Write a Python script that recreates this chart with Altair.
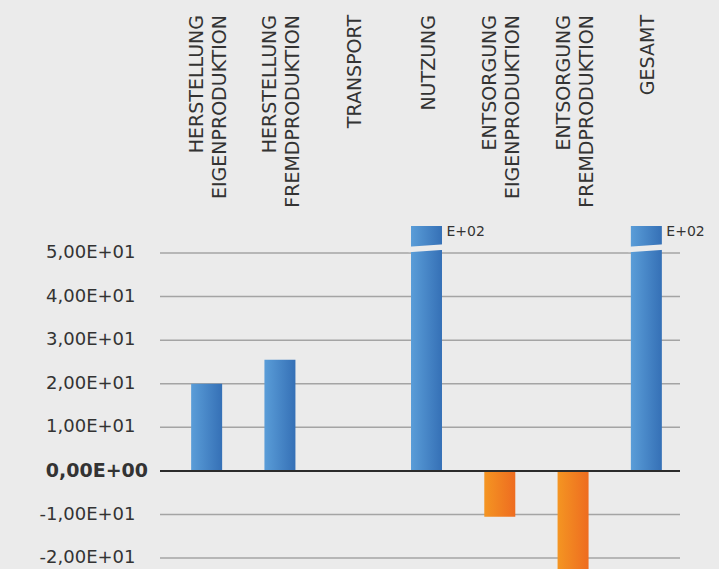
import altair as alt
import pandas as pd

# ---- data ----
categories = [
    "HERSTELLUNG\nEIGENPRODUKTION",
    "HERSTELLUNG\nFREMDPRODUKTION",
    "TRANSPORT",
    "NUTZUNG",
    "ENTSORGUNG\nEIGENPRODUKTION",
    "ENTSORGUNG\nFREMDPRODUKTION",
    "GESAMT",
]
values = [20.0, 25.5, 0.0, 240.0, -10.5, -26.0, 250.0]
tick_values = [-20, -10, 0, 10, 20, 30, 40, 50]
tick_labels = ["-2,00E+01", "-1,00E+01", "0,00E+00", "1,00E+01",
               "2,00E+01", "3,00E+01", "4,00E+01", "5,00E+01"]
overflow_label = "E+02"
y_min, y_max = -22.5, 56.2
break_lo, break_hi = 50.8, 51.4

df = pd.DataFrame({"cat": categories, "value": values})
ticks = pd.DataFrame({"v": tick_values, "label": tick_labels})

W, H = 513, 343
PL, PT = 170, 226     # plot origin
G0, G1 = -10, 510     # gridline extent in plot coords
BG = "#ebebeb"
FONT = "DejaVu Sans"
TXT = "#333333"

xscale = alt.Scale(domain=categories, paddingInner=0.577, paddingOuter=0.2885)
yscale = alt.Scale(domain=[y_min, y_max], clamp=True, nice=False, zero=False)

X = alt.X("cat:N", scale=xscale, axis=None, sort=categories)
Yv = alt.Y("value:Q", scale=yscale, axis=None)
Yt = alt.Y("v:Q", scale=yscale, axis=None)

blue = alt.Gradient(gradient="linear", x1=0, x2=1, y1=0, y2=0,
                    stops=[alt.GradientStop(color="#5a9dd8", offset=0),
                           alt.GradientStop(color="#3570b6", offset=1)])
orange = alt.Gradient(gradient="linear", x1=0, x2=1, y1=0, y2=0,
                      stops=[alt.GradientStop(color="#f49522", offset=0),
                             alt.GradientStop(color="#ee6c20", offset=1)])

tbase = alt.Chart(ticks)
grid = tbase.transform_filter("datum.v != 0").mark_rule(
    color="#a4a4a4", strokeWidth=1.5
).encode(y=Yt, x=alt.value(G0), x2=alt.value(G1))

zero_line = tbase.transform_filter("datum.v == 0").mark_rule(
    color="#2b2b2b", strokeWidth=2
).encode(y=Yt, x=alt.value(G0), x2=alt.value(G1))

ylabels = tbase.transform_filter("datum.v != 0").mark_text(
    align="right", baseline="middle", font=FONT, fontSize=18, color=TXT
).encode(y=Yt, x=alt.value(G0 - 24.5), text="label:N")

ylabel0 = tbase.transform_filter("datum.v == 0").mark_text(
    align="right", baseline="middle", font=FONT, fontSize=19, fontWeight="bold", color=TXT
).encode(y=Yt, x=alt.value(G0 - 12), text="label:N")

base = alt.Chart(df)
bars_pos = base.transform_filter("datum.value >= 0").mark_bar(color=blue).encode(x=X, y=Yv)
bars_neg = base.transform_filter("datum.value < 0").mark_bar(color=orange).encode(x=X, y=Yv)

over = base.transform_filter(f"datum.value > {y_max}").transform_calculate(
    lo=f"{break_lo}", hi=f"{break_hi}")
breaks = over.mark_rule(color=BG, strokeWidth=5.5, xOffset=-18, x2Offset=18).encode(
    x=X, x2=alt.X2("cat:N"),
    y=alt.Y("lo:Q", scale=yscale, axis=None), y2=alt.Y2("hi:Q"))
over_text = over.mark_text(
    align="left", baseline="top", dx=20, font=FONT, fontSize=14, color=TXT
).encode(x=X, y=alt.value(-1), text=alt.value(overflow_label))

label_style = dict(angle=270, align="right", baseline="middle", lineBreak="\n",
                   font=FONT, fontSize=19, lineHeight=23, color=TXT)
cat_labels_1 = base.transform_filter("indexof(datum.cat, '\\n') < 0").mark_text(
    dy=2, **label_style
).encode(x=X, y=alt.value(15 - PT), text="cat:N")
cat_labels_2 = base.transform_filter("indexof(datum.cat, '\\n') >= 0").mark_text(
    dy=-9.5, **label_style
).encode(x=X, y=alt.value(15 - PT), text="cat:N")

chart = alt.layer(
    grid, bars_pos, bars_neg, zero_line, breaks, over_text, ylabels, ylabel0,
    cat_labels_1, cat_labels_2
).properties(
    width=W, height=H,
    autosize=alt.AutoSizeParams(type="none"),
    padding={"left": PL, "top": PT, "right": 719 - PL - W, "bottom": 0},
    background=BG,
).configure_view(stroke=None)

chart.save("out.html", embed_options={"renderer": "svg", "actions": False})
